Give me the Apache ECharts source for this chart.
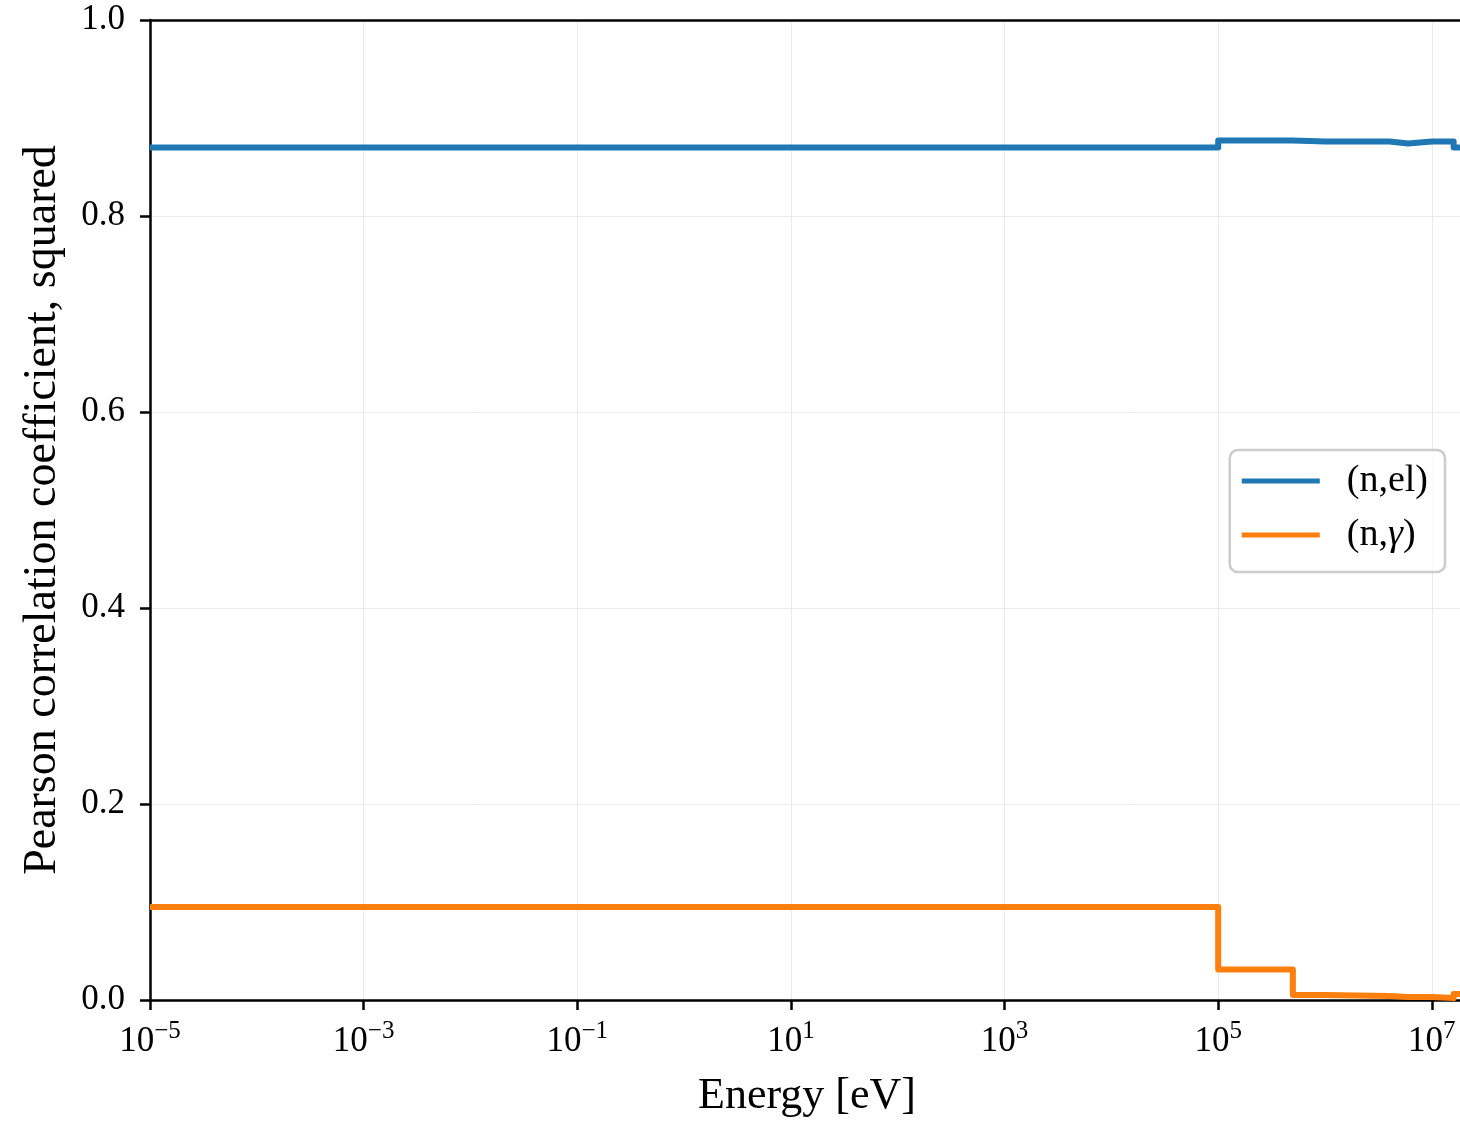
<!DOCTYPE html>
<html>
<head>
<meta charset="utf-8">
<script src="https://cdn.jsdelivr.net/npm/echarts@6/dist/echarts.min.js"></script>
<style>
html,body{margin:0;padding:0;background:#fff;overflow:hidden;}
#chart{width:1464px;height:1123px;}
</style>
</head>
<body>
<div id="chart"></div>
<script>
// Bin edges (eV) of the step histograms
const energyEdges = [1e-5, 1e5, 5e5, 1e6, 4e6, 6e6, 1e7, 1.6e7, 2e7];
// (n,el) squared correlation per bin (last value repeated at the final edge)
const elasticValues = [0.870, 0.877, 0.876, 0.876, 0.874, 0.876, 0.876, 0.870, 0.870];
// (n,γ) squared correlation per bin
const captureValues = [0.095, 0.031, 0.005, 0.004, 0.003, 0.003, 0.002, 0.006, 0.006];
const seriesNames = ['(n,el)', '(n,γ)'];
const yTicks = [0, 0.2, 0.4, 0.6, 0.8, 1.0];

const toPairs = (vals) => energyEdges.map((e, i) => [e, vals[i]]);
const FONT = '"Liberation Serif", "DejaVu Serif", serif';

const chart = echarts.init(document.getElementById('chart'), null, {renderer: 'canvas'});
chart.setOption({
  animation: false,
  backgroundColor: '#ffffff',
  grid: {left: 150, top: 20, bottom: 122, right: 0, show: false},
  xAxis: [{
    type: 'log',
    logBase: 10,
    min: 1e-5,
    max: 2e7,
    interval: 2,
    name: 'Energy [eV]',
    nameLocation: 'middle',
    nameGap: 74,
    nameTextStyle: {fontFamily: FONT, fontSize: 44, color: '#000'},
    axisLine: {show: true, lineStyle: {color: '#000', width: 2.5}},
    axisTick: {show: true, inside: false, length: 10, lineStyle: {color: '#000', width: 2.5}},
    minorTick: {show: false},
    splitLine: {show: true, lineStyle: {color: '#ebebeb', width: 1}},
    axisLabel: {
      margin: 19,
      showMaxLabel: false,
      showMinLabel: true,
      color: '#000',
      formatter: (v) => {
        const e = Math.round(Math.log10(v));
        return '{b|10}{s|' + (e < 0 ? '\u2212' : '') + Math.abs(e) + '}';
      },
      rich: {
        b: {fontFamily: FONT, fontSize: 35, color: '#000', lineHeight: 40, verticalAlign: 'bottom'},
        s: {fontFamily: FONT, fontSize: 25, color: '#000', verticalAlign: 'top'}
      }
    }
  }, {
    type: 'log',
    logBase: 10,
    position: 'top',
    min: 1e-5,
    max: 2e7,
    axisLine: {show: true, onZero: false, lineStyle: {color: '#000', width: 2.5}},
    axisTick: {show: false},
    minorTick: {show: false},
    axisLabel: {show: false},
    splitLine: {show: false}
  }],
  yAxis: {
    type: 'value',
    min: 0,
    max: 1,
    interval: 0.2,
    name: 'Pearson correlation coefficient, squared',
    nameLocation: 'middle',
    nameGap: 84,
    nameTextStyle: {fontFamily: FONT, fontSize: 46, color: '#000'},
    axisLine: {show: true, lineStyle: {color: '#000', width: 2.5}},
    axisTick: {show: true, inside: false, length: 10, lineStyle: {color: '#000', width: 2.5}},
    splitLine: {show: true, lineStyle: {color: '#ebebeb', width: 1}},
    axisLabel: {
      margin: 25,
      color: '#000',
      fontFamily: FONT,
      fontSize: 35,
      padding: [4, 0, 0, 0],
      formatter: (v) => v.toFixed(1)
    }
  },
  legend: {
    orient: 'vertical',
    right: 19,
    top: 450,
    data: seriesNames,
    icon: 'rect',
    itemWidth: 78,
    itemHeight: 5,
    itemGap: 14,
    padding: [11, 17, 17, 12],
    borderColor: '#cccccc',
    borderWidth: 2.5,
    borderRadius: 8,
    backgroundColor: 'rgba(255,255,255,0.8)',
    formatter: (name) => name === '(n,γ)' ? '{r|(n,}{i|γ}{r|)}' : '{r|' + name + '}',
    textStyle: {
      padding: [0, 0, 0, 22],
      fontFamily: FONT,
      fontSize: 38,
      lineHeight: 40,
      rich: {
        r: {fontFamily: FONT, fontSize: 38, color: '#000', lineHeight: 40},
        i: {fontFamily: FONT, fontSize: 38, color: '#000', fontStyle: 'italic', lineHeight: 40}
      }
    }
  },
  series: [
    {
      name: seriesNames[0],
      type: 'line',
      step: 'end',
      showSymbol: false,
      symbol: 'none',
      color: '#1f77b4',
      lineStyle: {color: '#1f77b4', width: 6, join: 'round', cap: 'butt'},
      data: toPairs(elasticValues)
    },
    {
      name: seriesNames[1],
      type: 'line',
      step: 'end',
      showSymbol: false,
      symbol: 'none',
      color: '#ff7f0e',
      lineStyle: {color: '#ff7f0e', width: 6, join: 'round', cap: 'butt'},
      data: toPairs(captureValues)
    }
  ]
});
</script>
</body>
</html>
